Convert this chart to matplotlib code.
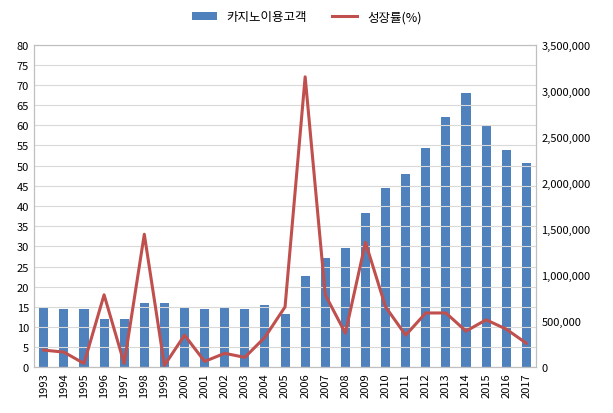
import matplotlib.pyplot as plt
from matplotlib.ticker import FuncFormatter

plt.rcParams['font.family'] = ['Noto Sans CJK KR', 'DejaVu Sans']

years = [str(y) for y in range(1993, 2018)]
visitors = [656000, 634000, 634000, 525000, 525000, 700000, 700000, 648000, 634000,
            656000, 634000, 678000, 578000, 993000, 1181000, 1290000, 1676000,
            1947000, 2100000, 2384000, 2712000, 2975000, 2625000, 2362000, 2218000]
growth = [4.3, 3.8, 1.0, 18.0, 1.0, 33.0, 0.5, 8.0, 1.5, 3.5, 2.5, 7.5, 15.0,
          72.0, 18.0, 8.5, 31.0, 15.0, 8.0, 13.5, 13.5, 9.0, 11.8, 9.5, 6.0]

fig, ax = plt.subplots(figsize=(6.13, 4.14), dpi=100)
fig.subplots_adjust(left=0.055, right=0.875, top=0.89, bottom=0.11)
ax2 = ax.twinx()

x = range(len(years))
bars = ax2.bar(x, visitors, width=0.45, color='#4F81BD', label='카지노이용고객')
line, = ax.plot(x, growth, color='#C0504D', lw=2.2, label='성장률(%)')
ax.set_zorder(ax2.get_zorder() + 1)
ax.patch.set_visible(False)

ax.set_ylim(0, 80)
ax.set_yticks(range(0, 81, 5))
ax2.set_ylim(0, 3500000)
ax2.set_yticks(range(0, 3500001, 500000))
ax2.yaxis.set_major_formatter(FuncFormatter(lambda v, p: f'{int(v):,}'))
ax.set_xlim(-0.5, len(years) - 0.5)
ax.set_xticks(list(x))
ax.set_xticklabels(years, rotation=90)
ax.grid(axis='y', color='#d9d9d9', lw=0.8)
ax.set_axisbelow(True)
for a in (ax, ax2):
    a.tick_params(labelsize=8, length=0)
    for s in a.spines.values():
        s.set_color('#bfbfbf')

fig.legend([bars, line], ['카지노이용고객', '성장률(%)'], loc='upper center',
           ncol=2, frameon=False, fontsize=9, bbox_to_anchor=(0.5, 1.0))
fig.savefig('out.png')
